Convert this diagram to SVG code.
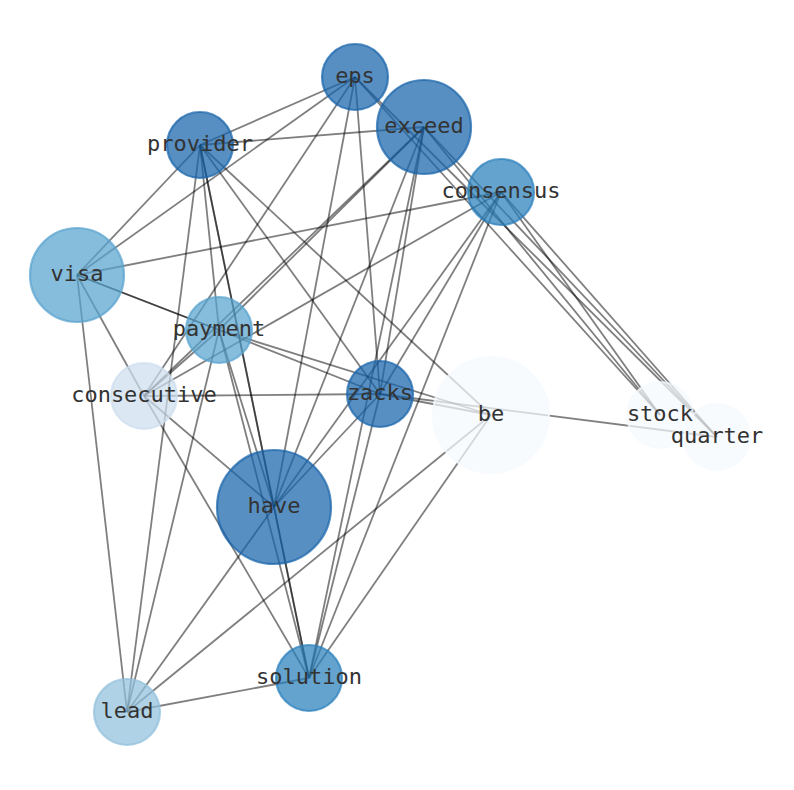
<svg xmlns="http://www.w3.org/2000/svg" width="794" height="790" viewBox="0 0 794 790">
<style>
.e{stroke:#000;stroke-opacity:0.5;stroke-width:1.8;fill:none}
.n{stroke-width:2.2;fill-opacity:0.72;stroke-opacity:0.72}
.d{fill:#1764ab;stroke:#1764ab}
.m{fill:#2a7fbd;stroke:#2a7fbd}
.l{fill:#58a2cf;stroke:#58a2cf}
.ll{fill:#91c1dc;stroke:#91c1dc}
.c{fill:#cddeef;stroke:#cddeef}
.w{fill:#f5f9fe;stroke:#f5f9fe}
text{font-family:"DejaVu Sans Mono","Liberation Mono",monospace;font-size:22px;fill:#333;text-anchor:middle;dominant-baseline:central}
</style>
<rect width="794" height="790" fill="#fff"/>
<g id="edges">
<line class="e" x1="355" y1="77" x2="200" y2="145"/>
<line class="e" x1="355" y1="77" x2="77" y2="275"/>
<line class="e" x1="355" y1="77" x2="144" y2="396"/>
<line class="e" x1="355" y1="77" x2="274" y2="507"/>
<line class="e" x1="355" y1="77" x2="380" y2="394"/>
<line class="e" x1="355" y1="77" x2="660" y2="415"/>
<line class="e" x1="355" y1="77" x2="717" y2="437"/>
<line class="e" x1="424" y1="127" x2="200" y2="145"/>
<line class="e" x1="424" y1="127" x2="219" y2="330"/>
<line class="e" x1="424" y1="127" x2="144" y2="396"/>
<line class="e" x1="424" y1="127" x2="274" y2="507"/>
<line class="e" x1="424" y1="127" x2="380" y2="394"/>
<line class="e" x1="424" y1="127" x2="309" y2="678"/>
<line class="e" x1="424" y1="127" x2="660" y2="415"/>
<line class="e" x1="424" y1="127" x2="717" y2="437"/>
<line class="e" x1="501" y1="192" x2="77" y2="275"/>
<line class="e" x1="501" y1="192" x2="144" y2="396"/>
<line class="e" x1="501" y1="192" x2="380" y2="394"/>
<line class="e" x1="501" y1="192" x2="274" y2="507"/>
<line class="e" x1="501" y1="192" x2="309" y2="678"/>
<line class="e" x1="501" y1="192" x2="660" y2="415"/>
<line class="e" x1="501" y1="192" x2="717" y2="437"/>
<line class="e" x1="200" y1="145" x2="77" y2="275"/>
<line class="e" x1="200" y1="145" x2="219" y2="330"/>
<line class="e" x1="200" y1="145" x2="274" y2="507"/>
<line class="e" x1="200" y1="145" x2="309" y2="678"/>
<line class="e" x1="200" y1="145" x2="127" y2="712"/>
<line class="e" x1="200" y1="145" x2="380" y2="394"/>
<line class="e" x1="200" y1="145" x2="491" y2="415"/>
<line class="e" x1="77" y1="275" x2="219" y2="330"/>
<line class="e" x1="77" y1="275" x2="219" y2="330"/>
<line class="e" x1="77" y1="275" x2="144" y2="396"/>
<line class="e" x1="77" y1="275" x2="127" y2="712"/>
<line class="e" x1="144" y1="396" x2="380" y2="394"/>
<line class="e" x1="144" y1="396" x2="274" y2="507"/>
<line class="e" x1="144" y1="396" x2="309" y2="678"/>
<line class="e" x1="144" y1="396" x2="219" y2="330"/>
<line class="e" x1="219" y1="330" x2="380" y2="394"/>
<line class="e" x1="219" y1="330" x2="491" y2="415"/>
<line class="e" x1="219" y1="330" x2="127" y2="712"/>
<line class="e" x1="219" y1="330" x2="274" y2="507"/>
<line class="e" x1="219" y1="330" x2="309" y2="678"/>
<line class="e" x1="380" y1="394" x2="274" y2="507"/>
<line class="e" x1="380" y1="394" x2="309" y2="678"/>
<line class="e" x1="380" y1="394" x2="491" y2="415"/>
<line class="e" x1="380" y1="394" x2="717" y2="437"/>
<line class="e" x1="274" y1="507" x2="309" y2="678"/>
<line class="e" x1="274" y1="507" x2="127" y2="712"/>
<line class="e" x1="309" y1="678" x2="127" y2="712"/>
<line class="e" x1="309" y1="678" x2="491" y2="415"/>
<line class="e" x1="491" y1="415" x2="127" y2="712"/>
</g>
<g id="node-eps"><circle class="n d" cx="355" cy="77" r="33"/></g>
<g id="node-exceed"><circle class="n d" cx="424" cy="127" r="47"/></g>
<g id="node-provider"><circle class="n d" cx="200" cy="145" r="33"/></g>
<g id="node-consensus"><circle class="n m" cx="501" cy="192" r="33"/></g>
<g id="node-visa"><circle class="n l" cx="77" cy="275" r="47"/></g>
<g id="node-payment"><circle class="n l" cx="219" cy="330" r="33"/></g>
<g id="node-consecutive"><circle class="n c" cx="144" cy="396" r="33"/></g>
<g id="node-zacks"><circle class="n d" cx="380" cy="394" r="33"/></g>
<g id="node-be"><circle class="n w" cx="491" cy="415" r="58"/></g>
<g id="node-stock"><circle class="n w" cx="660" cy="415" r="33"/></g>
<g id="node-quarter"><circle class="n w" cx="717" cy="437" r="33"/></g>
<g id="node-have"><circle class="n d" cx="274" cy="507" r="57"/></g>
<g id="node-solution"><circle class="n m" cx="309" cy="678" r="33"/></g>
<g id="node-lead"><circle class="n ll" cx="127" cy="712" r="33"/></g>
<g id="labels" transform="translate(0,-1.5)">
<text x="355" y="77">eps</text>
<text x="424" y="127">exceed</text>
<text x="200" y="145">provider</text>
<text x="501" y="192">consensus</text>
<text x="77" y="275">visa</text>
<text x="219" y="330">payment</text>
<text x="144" y="396">consecutive</text>
<text x="380" y="394">zacks</text>
<text x="491" y="415">be</text>
<text x="660" y="415">stock</text>
<text x="717" y="437">quarter</text>
<text x="274" y="507">have</text>
<text x="309" y="678">solution</text>
<text x="127" y="712">lead</text>
</g>
</svg>
